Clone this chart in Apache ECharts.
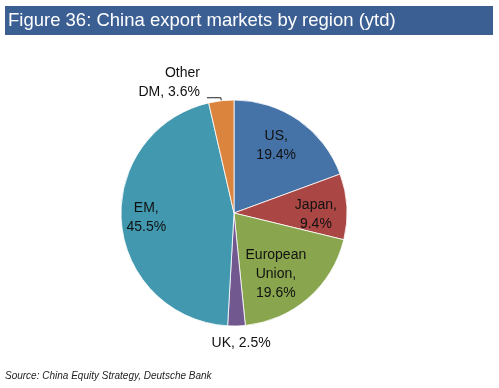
<!DOCTYPE html>
<html><head><meta charset="utf-8">
<script src="https://cdn.jsdelivr.net/npm/echarts@6/dist/echarts.min.js"></script>
<style>html,body{margin:0;padding:0;background:#fff}#c{width:499px;height:388px}</style>
</head><body><div id="c"></div>
<script>
const titleText = 'Figure 36: China export markets by region (ytd)';
const sourceText = 'Source: China Equity Strategy, Deutsche Bank';
const categories = ['US', 'Japan', 'European Union', 'UK', 'EM', 'Other DM'];
const labelPrefixes = ['US,\n', 'Japan,\n', 'European\nUnion,\n', 'UK, ', 'EM,\n', 'Other\nDM, '];
const shares = [19.4, 9.4, 19.6, 2.5, 45.5, 3.6];
const colors = ['#4572a7', '#aa4643', '#89a54e', '#71588f', '#4198af', '#db843d'];
const outsideLabels = ['UK', 'Other DM'];

const FONT = '"Liberation Sans", Arial, sans-serif';
const chart = echarts.init(document.getElementById('c'), null, {renderer: 'canvas'});
const center = [234, 213];

const mainData = categories.map((c, i) => {
  const outside = outsideLabels.includes(c);
  return {
    name: c, value: shares[i],
    itemStyle: {color: colors[i]},
    label: {show: outside, position: 'outside'},
    labelLine: {show: c === 'Other DM', length: 3, length2: 14}
  };
});
const labelData = categories.map((c, i) => ({
  name: c, value: shares[i],
  label: {show: !outsideLabels.includes(c)}
}));
const fmt = p => labelPrefixes[p.dataIndex] + p.value.toFixed(1) + '%';

chart.setOption({
  animation: false,
  graphic: [
    {type: 'rect', shape: {x: 5, y: 6, width: 488, height: 29}, style: {fill: '#3c5f93'}},
    {type: 'text', x: 8, y: 21, style: {text: titleText, fill: '#fff', font: '18.5px ' + FONT, textVerticalAlign: 'middle'}},
    {type: 'text', x: 5, y: 376, style: {text: sourceText, fill: '#222', font: 'italic 10px ' + FONT, textVerticalAlign: 'middle'}}
  ],
  series: [
    {
      type: 'pie', center: center, radius: 113, startAngle: 90, clockwise: true,
      silent: true, data: mainData,
      itemStyle: {borderColor: '#fff', borderWidth: 0.8},
      label: {formatter: fmt, color: '#111', fontFamily: FONT, fontSize: 14, lineHeight: 19},
      labelLine: {lineStyle: {color: '#222', width: 1}, smooth: false},
      labelLayout: function (p) {
        if (p.dataIndex === 3) return {dx: -44, dy: 14};
        if (p.dataIndex === 5) return {dx: -2, dy: -15};
      }
    },
    {
      type: 'pie', center: center, radius: [0, 152], startAngle: 90, clockwise: true,
      silent: true, data: labelData,
      itemStyle: {color: 'rgba(0,0,0,0)', borderWidth: 0},
      label: {position: 'inside', formatter: fmt, color: '#111', fontFamily: FONT, fontSize: 14, lineHeight: 19},
      labelLine: {show: false},
      labelLayout: function (p) {
        if (p.dataIndex === 0) return {dx: -3, dy: -3};
        if (p.dataIndex === 1) return {dx: 3, dy: 6};
        if (p.dataIndex === 2) return {dx: -10, dy: 2};
        if (p.dataIndex === 4) return {dx: -9, dy: -2};
      }
    }
  ]
});
</script></body></html>
